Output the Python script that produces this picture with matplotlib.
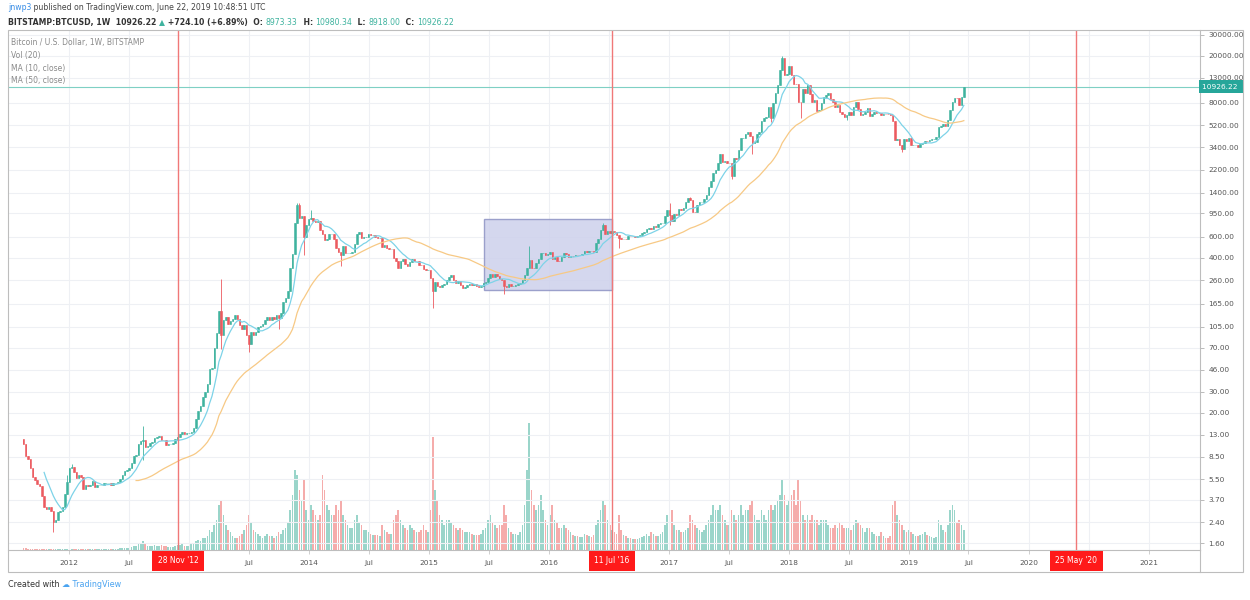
import numpy as np
import pandas as pd
import matplotlib
matplotlib.use("Agg")
import matplotlib.pyplot as plt
import matplotlib.dates as mdates
import matplotlib.transforms as mtrans
from matplotlib.patches import Rectangle

# BITSTAMP:BTCUSD weekly bars, first bar = week of 15 Aug 2011
first_week = "2011-08-15"
first_open = 12.0

close_2011 = [10.9, 8.6, 8.2, 6.9, 5.8, 5.4, 5.0, 4.8, 4.0, 3.2, 3.1, 3.2, 3.0, 2.4, 2.5, 2.9,
              3.0, 3.2, 4.1, 5.2]
close_2012 = [6.8, 7.0, 6.3, 5.6, 6.0, 5.8, 4.6, 4.9, 4.8, 4.9, 5.3, 4.7, 4.9, 4.9, 4.9, 5.1,
              5.1, 5.1, 4.9, 5.1, 5.1, 5.2, 5.5, 6.0, 6.4, 6.6, 6.8, 7.5, 8.6, 8.8, 10.9, 11.5,
              11.7, 10.2, 10.5, 11.0, 11.4, 12.3, 12.4, 12.6, 11.8, 11.7, 10.7, 10.8, 10.9, 11.2,
              11.9, 12.5, 13.3, 13.6, 13.3, 13.4, 13.5]
close_2013 = [13.7, 14.7, 17.5, 20.5, 22.5, 27.0, 29.9, 34.5, 46.9, 47.0, 70.0, 93.0, 142.0,
              90.0, 119.0, 128.0, 112.0, 117.0, 122.0, 132.0, 122.0, 108.0, 100.0, 108.0, 90.0,
              76.0, 95.0, 90.0, 95.0, 104.0, 106.0, 110.0, 121.0, 127.0, 119.0, 126.0, 123.0,
              131.0, 125.0, 138.0, 170.0, 185.0, 209.0, 330.0, 430.0, 780.0, 1100.0, 860.0,
              900.0, 600.0, 750.0, 840.0]
close_2014 = [870, 820, 800, 810, 680, 630, 560, 570, 630, 630, 570, 480, 450, 420, 500, 440,
              440, 440, 445, 525, 630, 655, 590, 595, 600, 635, 620, 620, 595, 585, 590, 495,
              510, 480, 475, 475, 400, 375, 330, 375, 390, 355, 340, 370, 390, 375, 375, 350,
              345, 320, 315, 315]
close_2015 = [270, 210, 250, 230, 225, 235, 240, 260, 275, 285, 260, 245, 255, 235, 222, 225,
              235, 240, 237, 240, 230, 225, 233, 245, 250, 270, 290, 275, 290, 280, 265, 262,
              230, 229, 240, 230, 232, 235, 240, 245, 262, 285, 325, 385, 330, 325, 360, 390,
              435, 440, 420, 430]
close_2016 = [447, 387, 403, 376, 375, 406, 438, 433, 403, 414, 411, 425, 420, 421, 427, 460,
              445, 458, 454, 444, 530, 575, 690, 760, 630, 670, 650, 675, 655, 625, 590, 570,
              580, 575, 610, 608, 610, 602, 612, 616, 640, 655, 700, 705, 700, 740, 730, 765,
              780, 790, 895, 1000]
close_2017 = [910, 820, 925, 920, 1020, 1000, 1050, 1180, 1270, 1230, 970, 965, 1100, 1180,
              1180, 1250, 1350, 1580, 1750, 2050, 2200, 2520, 2950, 2550, 2580, 2500, 2500,
              1930, 2750, 2720, 3230, 4050, 4090, 4350, 4590, 4200, 3700, 3780, 4360, 4600,
              5680, 6000, 6140, 7370, 5950, 8000, 9700, 11300, 15000, 19000, 13800, 14000]
close_2018 = [16500, 13600, 11600, 11500, 8200, 8100, 10400, 9600, 11400, 9500, 8200, 8400,
              6900, 7000, 8000, 8900, 9300, 9650, 8700, 8200, 7350, 7700, 6750, 6450, 6150,
              6350, 6730, 6350, 7400, 8200, 7050, 6300, 6400, 6700, 7300, 6250, 6500, 6700,
              6600, 6600, 6300, 6480, 6450, 6400, 6370, 5600, 3900, 4000, 3550, 3250, 3950,
              3850, 4050]
close_2019 = [3550, 3550, 3550, 3420, 3620, 3650, 3830, 3810, 3900, 3980, 3990, 4100, 5050,
              5070, 5300, 5150, 5750, 6950, 8200, 8750, 8740, 7650, 8973.33, 10926.22]

# visible wick extremes
wick_high = {"2011-12-26": 6.0, "2012-01-09": 7.4, "2012-08-13": 15.4, "2013-04-08": 266,
             "2013-11-25": 1163, "2013-12-02": 1150, "2014-01-06": 1000, "2015-11-02": 502,
             "2016-06-13": 780, "2017-01-02": 1150, "2017-03-06": 1290, "2017-06-12": 2980,
             "2017-12-11": 19666, "2019-06-17": 10980.34}
wick_low = {"2011-11-14": 2.0, "2012-08-13": 8.0, "2013-04-08": 68, "2013-07-01": 65,
            "2013-09-30": 100, "2013-12-16": 420, "2014-04-07": 340, "2015-01-12": 152,
            "2015-08-17": 198, "2016-08-01": 480, "2017-01-02": 750, "2017-07-10": 1830,
            "2017-09-11": 2970, "2017-11-06": 5500, "2018-02-05": 6000, "2018-06-25": 5750,
            "2018-12-10": 3120, "2019-06-17": 8918.00}

# weekly volume, thousand BTC
vol_2011 = [2, 2, 1, 1, 1, 1, 1, 1, 1, 1, 1, 1, 1, 1, 1, 1, 1, 1, 1, 1]
vol_2012 = [1, 1, 1, 1, 1, 1, 1, 1, 1, 1, 1, 1, 1, 1, 1, 1, 1, 1, 1, 1, 1, 1, 2, 2, 2, 2, 2,
            3, 4, 4, 6, 7, 9, 6, 4, 4, 4, 5, 4, 4, 5, 4, 4, 3, 3, 3, 4, 5, 5, 6, 4, 4, 4]
vol_2013 = [6, 7, 9, 10, 9, 12, 12, 14, 20, 18, 25, 30, 45, 50, 35, 25, 20, 18, 14, 12, 12, 14,
            16, 20, 25, 35, 28, 20, 18, 16, 14, 12, 14, 16, 14, 14, 12, 14, 18, 16, 20, 22, 28,
            40, 55, 80, 75, 60, 50, 70, 40, 30]
vol_2014 = [45, 40, 35, 30, 35, 75, 60, 45, 40, 35, 35, 45, 40, 50, 35, 30, 25, 22, 22, 30, 35,
            28, 25, 20, 20, 18, 16, 15, 15, 15, 14, 25, 20, 18, 16, 16, 30, 35, 40, 30, 25, 22,
            20, 25, 22, 20, 18, 18, 20, 25, 20, 18]
vol_2015 = [40, 113, 60, 50, 35, 30, 25, 30, 30, 28, 25, 22, 20, 22, 20, 18, 18, 18, 16, 15, 15,
            15, 16, 20, 22, 30, 35, 28, 25, 22, 25, 25, 45, 35, 22, 18, 16, 16, 15, 18, 25, 45,
            80, 127, 60, 45, 40, 45, 55, 40, 30, 25]
vol_2016 = [35, 45, 30, 28, 22, 22, 25, 22, 20, 18, 15, 14, 14, 13, 13, 16, 15, 14, 13, 15, 25,
            30, 40, 50, 45, 30, 25, 20, 18, 16, 35, 20, 15, 14, 12, 12, 11, 11, 11, 12, 13, 14,
            16, 14, 18, 16, 14, 14, 16, 18, 25, 35]
vol_2017 = [50, 40, 25, 20, 20, 18, 18, 20, 22, 35, 30, 25, 22, 20, 18, 20, 25, 30, 35, 45, 40,
            40, 45, 35, 30, 25, 25, 40, 35, 30, 35, 45, 35, 40, 40, 45, 50, 35, 30, 30, 40, 35,
            30, 40, 45, 40, 45, 50, 55, 70, 55, 45]
vol_2018 = [50, 55, 60, 45, 70, 50, 35, 30, 35, 30, 35, 30, 30, 25, 30, 30, 30, 25, 22, 22, 25,
            22, 28, 25, 22, 22, 22, 20, 25, 30, 28, 25, 22, 18, 22, 22, 18, 16, 14, 14, 18, 14,
            12, 12, 14, 45, 50, 35, 30, 25, 20, 18, 20]
vol_2019 = [18, 16, 14, 14, 15, 16, 18, 15, 14, 13, 12, 13, 30, 25, 20, 18, 25, 40, 45, 40, 28,
            30, 25, 20]

price_ticks = [1.6, 2.4, 3.7, 5.5, 8.5, 13, 20, 30, 46, 70, 105, 165, 260, 400, 600, 950,
               1400, 2200, 3400, 5200, 8000, 13000, 20000, 30000]
halvings = ["2012-11-28", "2016-07-11", "2020-05-25"]
halving_labels = ["28 Nov '12", "11 Jul '16", "25 May '20"]
last_price = 10926.22

close = np.array(close_2011 + close_2012 + close_2013 + close_2014 + close_2015 +
                 close_2016 + close_2017 + close_2018 + close_2019, dtype=float)
volume = np.array(vol_2011 + vol_2012 + vol_2013 + vol_2014 + vol_2015 + vol_2016 +
                  vol_2017 + vol_2018 + vol_2019, dtype=float)
weeks = pd.date_range(first_week, periods=len(close), freq="W-MON")
opn = np.concatenate([[first_open], close[:-1]])
high = np.maximum(opn, close)
low = np.minimum(opn, close)
for d, v in wick_high.items():
    high[weeks.get_loc(pd.Timestamp(d))] = v
for d, v in wick_low.items():
    low[weeks.get_loc(pd.Timestamp(d))] = v

x = mdates.date2num(weeks)
up = close >= opn
green, red = "#3fb39f", "#ec5a5f"
ccol = np.where(up, green, red)
vcol = np.where(up, "#9ad5ca", "#f5acab")
ma10 = pd.Series(close).rolling(10).mean()
ma50 = pd.Series(close).rolling(50).mean()

W, H = 1250, 600
fig = plt.figure(figsize=(12.5, 6), dpi=100)
rect = [8 / W, 50 / H, 1192 / W, 520 / H]
axv = fig.add_axes(rect)
ax = fig.add_axes(rect, sharex=axv)
axv.set_zorder(0)
ax.set_zorder(1)
ax.patch.set_visible(False)

# volume
axv.bar(x, volume, width=5.0, color=vcol, linewidth=0)
axv.set_ylim(0, volume.max() * 520 / 127)
axv.axis("off")

# candles
ax.vlines(x, low, high, colors=ccol, lw=0.6, zorder=3)
ax.bar(x, np.abs(close - opn), bottom=np.minimum(opn, close), width=4.6, color=ccol,
       edgecolor=ccol, linewidth=0.4, zorder=4)
ax.plot(x, ma10, color="#7dd3e8", lw=0.9, zorder=5)
ax.plot(x, ma50, color="#f7c985", lw=0.9, zorder=5)

ax.set_yscale("log")
ax.set_ylim(1.40, 32800)
ax.set_xlim(mdates.datestr2num("2011-06-29"), mdates.datestr2num("2021-06-05"))

ax.axhline(last_price, color="#7fd0c4", lw=0.8, zorder=2)
box = Rectangle((mdates.datestr2num("2015-06-17"), 214), 390, 850 - 214, facecolor="#cdd1ec",
                edgecolor="#8e93c4", lw=1.0, alpha=0.85, zorder=2)
ax.add_patch(box)

xt = mtrans.blended_transform_factory(ax.transData, ax.transAxes)
for d, lab in zip(halvings, halving_labels):
    xd = mdates.datestr2num(d)
    ax.axvline(xd, color="#f07878", lw=1.0, zorder=7)
    ax.text(xd, -0.021, lab, transform=xt, ha="center", va="center", fontsize=5.5,
            color="white", bbox=dict(boxstyle="square,pad=0.7", fc="#ff1a1a", ec="none"),
            clip_on=False, zorder=10)

# y axis on the right
ax.yaxis.tick_right()
ax.set_yticks(price_ticks)
ax.set_yticklabels([f"{v:.2f}" for v in price_ticks])
ax.yaxis.set_minor_locator(matplotlib.ticker.NullLocator())
ax.tick_params(axis="y", labelsize=5.3, labelcolor="#555555", color="#b0b0b0", length=3,
               width=0.6, pad=3)
yt = mtrans.blended_transform_factory(ax.transAxes, ax.transData)
ax.text(1.0016, last_price, "10926.22 ", transform=yt, ha="left", va="center", fontsize=5.3,
        color="white", bbox=dict(boxstyle="square,pad=0.45", fc="#26a69a", ec="none"),
        clip_on=False, zorder=10)

# time axis
tick_dates = []
tick_labels = []
for yr in range(2012, 2022):
    for m, name in [(1, str(yr)), (7, "Jul")]:
        d = pd.Timestamp(yr, m, 1)
        if d > pd.Timestamp("2021-06-05"):
            continue
        tick_dates.append(mdates.date2num(d))
        hidden = (yr, m) in [(2013, 1), (2016, 7), (2020, 7)]
        tick_labels.append("" if hidden else name)
ax.set_xticks(tick_dates)
ax.set_xticklabels(tick_labels)
ax.tick_params(axis="x", labelsize=5.3, labelcolor="#555555", color="#c8c8c8", length=3,
               width=0.6, pad=4)
ax.grid(True, color="#eef0f4", lw=0.8, zorder=0)
for s in ["top", "left"]:
    ax.spines[s].set_visible(False)
for s in ["right", "bottom"]:
    ax.spines[s].set_color("#bdbdbd")
    ax.spines[s].set_linewidth(0.8)

# outer frame of the chart widget
fx = lambda px: px / W
fy = lambda py: 1 - py / H
fig.patches.append(Rectangle((fx(8), fy(572)), fx(1243) - fx(8), fy(30) - fy(572),
                             transform=fig.transFigure, fill=False, ec="#bdbdbd", lw=0.8))
fig.lines.append(plt.Line2D([fx(1200), fx(1200)], [fy(550), fy(572)],
                            transform=fig.transFigure, color="#bdbdbd", lw=0.8))

# legend text
for i, s in enumerate(["Bitcoin / U.S. Dollar, 1W, BITSTAMP", "Vol (20)", "MA (10, close)",
                       "MA (50, close)"]):
    fig.text(fx(11), fy(43 + i * 12.5), s, fontsize=5.5, color="#8a8a8a", va="center")


def chain(parts, px, py, size):
    t = fig.text(fx(px), fy(py), parts[0][0], color=parts[0][1], fontsize=size,
                 weight=parts[0][2], va="bottom")
    for s, c, w in parts[1:]:
        t = ax.annotate(s, xy=(1, 0), xycoords=t, va="bottom", ha="left", color=c,
                        fontsize=size, weight=w, annotation_clip=False)
    return t


chain([("jnwp3", "#3a8ee6", "normal"),
       (" published on TradingView.com, June 22, 2019 10:48:51 UTC", "#444444", "normal")],
      8, 12, 5.6)
chain([("BITSTAMP:BTCUSD, 1W  10926.22 ", "#333333", "bold"),
       ("▲", "#3fb39f", "normal"),
       (" +724.10 (+6.89%)  O: ", "#333333", "bold"),
       ("8973.33", "#3fb39f", "normal"), ("  H: ", "#333333", "bold"),
       ("10980.34", "#3fb39f", "normal"), ("  L: ", "#333333", "bold"),
       ("8918.00", "#3fb39f", "normal"), ("  C: ", "#333333", "bold"),
       ("10926.22", "#3fb39f", "normal")],
      8, 27, 5.6)
chain([("Created with ", "#333333", "normal"), ("☁", "#4aa3f0", "normal"),
       (" TradingView", "#4aa3f0", "normal")], 8, 589, 5.8)

fig.savefig("out.png", dpi=100, facecolor="white")
